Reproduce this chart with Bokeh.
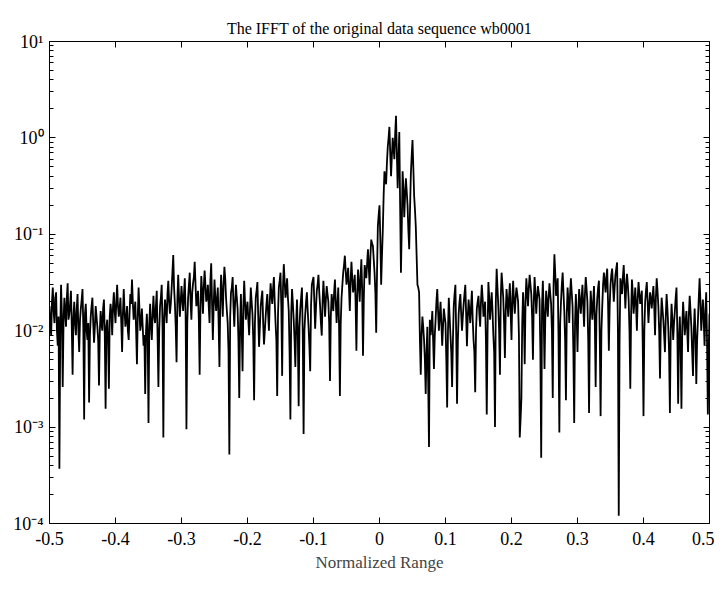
import numpy as np
from bokeh.plotting import figure
from bokeh.models import (FixedTicker, CustomJSTickFormatter, LinearAxis, LogAxis,
                          ColumnDataSource, CustomLabelingPolicy)
from bokeh.embed import file_html
from bokeh.resources import INLINE

TITLE = "The IFFT of the original data sequence wb0001"
X_LABEL = "Normalized Range"
X_START, X_END = -0.5, 0.5
X_TICKS = [-0.5, -0.4, -0.3, -0.2, -0.1, 0.0, 0.1, 0.2, 0.3, 0.4, 0.5]
Y_TICKS = [1e-4, 1e-3, 1e-2, 1e-1, 1e0, 1e1]

# magnitude of the IFFT, in units of 1e-3.
# samples on the grid -0.5, -0.4975, ..., 0.5 (401 values)
mag_milli_grid = [
    18, 9, 28, 12, 25, 7, 0.37, 30, 2.6, 22,
    11, 31, 15, 26, 3.5, 20, 9, 24, 6, 17,
    27, 1.2, 19, 8, 1.8, 14, 22, 7.5, 18, 11,
    2.7, 16, 10, 21, 1.55, 13, 2.5, 19, 9, 25,
    12, 30, 14, 22, 6, 27, 11, 18, 8, 24,
    34, 13, 20, 4.5, 28, 10, 17, 7, 2.2, 15,
    1.1, 19, 8, 23, 12, 26, 2.6, 18, 30, 0.78,
    21, 12, 33, 15, 27, 61, 19, 4.7, 38, 14,
    29, 16, 35, 0.95, 22, 40, 13, 31, 52, 18,
    26, 3.5, 37, 15, 42, 20, 30, 12, 50, 8,
    34, 16, 28, 4.2, 38, 14, 46, 22, 12, 0.52,
    25, 36, 11, 30, 17, 2.0, 24, 3.8, 33, 13,
    20, 9, 28, 15, 1.9, 22, 32, 6.8, 18, 26,
    7.2, 14, 24, 10, 31, 19, 36, 12, 2.1, 28,
    40, 3.4, 49, 22, 35, 16, 1.2, 27, 13, 4.2,
    21, 1.65, 17, 28, 0.85, 15, 25, 11, 3.8, 30,
    36, 10.5, 26, 38, 18, 8.9, 33, 14, 29, 20,
    3.0, 24, 16, 34, 12, 28, 2.1, 22, 40, 60,
    30, 45, 16, 52, 25, 38, 6.2, 43, 20, 55,
    5.5, 48, 35, 70, 30, 88, 76, 40, 9.5, 120,
    200, 30, 110, 450, 330, 800, 1300, 400, 1000, 600,
    1700, 300, 1150, 40, 450, 150, 380, 200, 70, 420,
    950, 250, 120, 30, 25, 3.5, 14, 8, 2.2, 11,
    0.62, 9, 16, 4.0, 13, 27, 10, 20, 7, 17,
    12, 1.6, 22, 9, 2.6, 18, 30, 1.75, 15, 24,
    10, 19, 30, 6.9, 21, 12, 26, 8, 2.3, 17,
    23, 11, 30, 14, 20, 1.35, 32, 13, 25, 9,
    1.0, 44, 18, 3.5, 40, 22, 5.2, 27, 14, 31,
    8.0, 33, 15, 28, 20, 0.78, 2.0, 25, 4.5, 35,
    18, 38, 24, 5.0, 36, 15, 29, 21, 0.48, 33,
    4.0, 26, 14, 31, 19, 2.0, 62, 23, 35, 0.88,
    20, 40, 16, 1.9, 28, 12, 35, 18, 1.1, 24,
    6.0, 27, 15, 30, 11, 36, 20, 1.4, 26, 13,
    29, 2.6, 22, 33, 1.3, 18, 40, 25, 44, 6.2,
    30, 44, 20, 38, 51, 0.12, 35, 24, 48, 17,
    39, 21, 2.5, 34, 15, 28, 10, 32, 19, 26,
    1.3, 20, 32, 12, 25, 17, 29, 9, 35, 18,
    3.2, 22, 13, 6.0, 24, 11, 1.4, 19, 8, 16,
    28, 1.75, 14, 1.55, 20, 9, 16, 6, 23, 11,
    3.4, 17, 2.8, 13, 35, 10, 21, 7, 25, 1.35, 15,
]

# samples half-way between the grid points above (400 values)
mag_milli_between = [
    12, 20, 16, 22, 10, 14, 9, 15, 12, 16,
    22, 13, 19, 11, 14, 12, 17, 10, 13, 21,
    11, 15, 10, 12, 9, 18, 12, 11, 14, 8,
    10, 12, 17, 9, 11, 8, 14, 15, 18, 16,
    20, 18, 17, 12, 15, 16, 13, 10, 15, 19,
    20, 16, 10, 14, 17, 12, 11, 9, 10, 9,
    12, 11, 15, 14, 18, 9, 10, 22, 11, 14,
    16, 24, 20, 19, 40, 28, 11, 21, 22, 20,
    21, 24, 15, 12, 30, 20, 25, 36, 30, 20,
    13, 18, 25, 28, 30, 22, 18, 33, 20, 18,
    22, 21, 12, 20, 24, 30, 35, 16, 6, 14,
    28, 18, 20, 22, 8, 11, 10, 18, 20, 17,
    13, 16, 20, 8, 12, 26, 14, 11, 22, 12,
    10, 19, 15, 20, 24, 27, 20, 8, 15, 33,
    18, 28, 33, 26, 22, 6, 15, 19, 8, 12,
    9, 11, 22, 9, 10, 20, 16, 7, 18, 33,
    20, 17, 30, 25, 12, 20, 22, 21, 24, 12,
    14, 19, 25, 20, 18, 11, 12, 30, 48, 42,
    36, 28, 33, 35, 30, 20, 24, 30, 36, 26,
    22, 42, 50, 45, 60, 80, 55, 25, 40, 160,
    90, 60, 250, 380, 550, 1000, 700, 650, 800, 1100,
    700, 600, 200, 120, 300, 250, 280, 110, 180, 650,
    500, 180, 60, 28, 8, 9, 11, 5, 6, 3,
    13, 11, 8, 9, 20, 16, 14, 12, 11, 14,
    5, 10, 14, 6, 8, 24, 9, 8, 20, 15,
    14, 24, 15, 14, 16, 18, 13, 6, 10, 20,
    15, 20, 22, 16, 8, 10, 22, 18, 16, 6,
    20, 28, 10, 22, 30, 12, 16, 20, 22, 15,
    22, 20, 22, 24, 9, 1.2, 12, 15, 20, 25,
    28, 30, 14, 20, 24, 22, 25, 6, 18, 15,
    14, 20, 22, 24, 10, 30, 40, 28, 8, 12,
    30, 25, 8, 15, 20, 24, 25, 6, 12, 14,
    16, 20, 22, 18, 24, 27, 8, 12, 18, 20,
    12, 15, 28, 8, 10, 30, 32, 36, 20, 18,
    38, 30, 28, 44, 10, 8, 30, 36, 30, 28,
    30, 10, 15, 24, 20, 18, 22, 24, 22, 8,
    10, 26, 20, 18, 21, 23, 18, 22, 26, 10,
    12, 17, 9, 14, 17, 6, 10, 13, 12, 22,
    10, 8, 7, 11, 14, 12, 10, 15, 16, 6,
    10, 9, 8, 22, 20, 15, 13, 16, 8, 6,
]

# interleave the two sets of samples into one sequence
n_total = len(mag_milli_grid) + len(mag_milli_between)
mag = np.empty(n_total)
mag[0::2] = mag_milli_grid
mag[1::2] = mag_milli_between
x = np.linspace(X_START, X_END, n_total)
y = mag * 1e-3
src = ColumnDataSource(dict(x=x, y=y))

SERIF = "Liberation Serif"

p = figure(width=714, height=585, x_range=(X_START, X_END), y_range=(1e-4, 10),
           y_axis_type="log", output_backend="svg", toolbar_location=None,
           min_border_left=49, min_border_right=5, min_border_top=41, min_border_bottom=62)

p.line("x", "y", source=src, line_color="black", line_width=1.8)

p.title.text = TITLE
p.title.align = "center"
p.title.text_font = SERIF
p.title.text_font_size = "16px"
p.title.text_font_style = "normal"
p.title.text_color = "black"
p.title.standoff = 10

p.grid.visible = False
p.outline_line_color = "black"
p.outline_line_width = 1
p.background_fill_color = "white"
p.border_fill_color = "white"

xfmt = CustomJSTickFormatter(code="""
    if (Math.abs(tick) < 1e-9) return "0";
    return tick.toFixed(1);
""")
yfmt = CustomJSTickFormatter(code="""
    const e = Math.round(Math.log10(tick));
    const sup = {"-": "\u207b", "0": "\u2070", "1": "\u00b9", "2": "\u00b2",
                 "3": "\u00b3", "4": "\u2074", "5": "\u2075"};
    return "10" + String(e).split("").map(c => sup[c]).join("");
""")
hide_labels = CustomLabelingPolicy(code="""
    const result = new Set()
    return result.values()
""")

minor = []
for d in range(-4, 1):
    for k in range(2, 10):
        minor.append(k * 10.0 ** d)

xt = FixedTicker(ticks=X_TICKS)
yt = FixedTicker(ticks=Y_TICKS, minor_ticks=minor)

def style(ax):
    ax.axis_line_color = None
    ax.major_tick_in = 6
    ax.major_tick_out = 0
    ax.minor_tick_in = 4
    ax.minor_tick_out = 0
    ax.major_tick_line_color = "black"
    ax.minor_tick_line_color = "black"
    ax.major_label_text_font = SERIF
    ax.major_label_text_font_size = "18px"
    ax.major_label_text_color = "black"

xa = p.xaxis[0]
xa.ticker = xt
xa.formatter = xfmt
style(xa)
xa.minor_tick_line_color = None
xa.major_label_standoff = 8
xa.axis_label = X_LABEL
xa.axis_label_text_font = SERIF
xa.axis_label_text_font_size = "17px"
xa.axis_label_text_font_style = "normal"
xa.axis_label_standoff = 5

ya = p.yaxis[0]
ya.ticker = yt
ya.formatter = yfmt
style(ya)
ya.major_label_standoff = 6

top = LinearAxis(ticker=FixedTicker(ticks=X_TICKS), formatter=xfmt,
                 major_label_policy=hide_labels)
style(top)
top.minor_tick_line_color = None
top.major_label_text_font_size = "0px"
top.major_label_standoff = 6
p.add_layout(top, "above")

right = LogAxis(ticker=FixedTicker(ticks=Y_TICKS, minor_ticks=minor), formatter=yfmt,
                major_label_policy=hide_labels)
style(right)
right.major_label_text_font_size = "0px"
right.major_label_standoff = 0
p.add_layout(right, "right")

open("out.html", "w").write(file_html(p, INLINE))
